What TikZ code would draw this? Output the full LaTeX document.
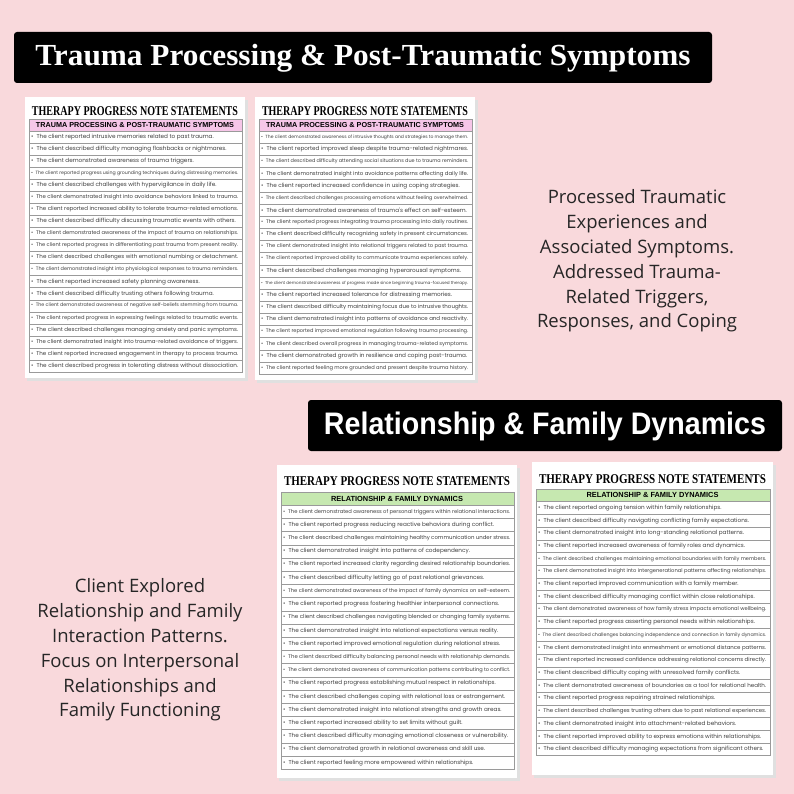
\documentclass[tikz,border=0pt]{standalone}
\usepackage{fontspec}
\usepackage{adjustbox}
\setmainfont{Liberation Serif}
\newfontfamily\rowfont{Poppins}
\newfontfamily\sidefont{Open Sans}
\newfontfamily\bansans{Liberation Sans}
\definecolor{bg}{HTML}{F9D9DC}
\definecolor{pinkbar}{HTML}{F6C6E8}
\definecolor{greenbar}{HTML}{C6E8B0}
\definecolor{rowline}{HTML}{9A9A9A}
\newcommand\tinyrow{}
\tikzset{
 banner/.style={fill=black,rounded corners=3pt,draw=none},
 sheet/.style={fill=white,draw=none},
 shadow/.style={fill=black!12,draw=none},
 rowtxt/.style={anchor=west,inner sep=0pt,font=\rowfont\fontsize{5.7pt}{6.5pt}\selectfont,text=black!75},
 bartxt/.style={inner sep=0pt,font=\bansans\bfseries\fontsize{7.4pt}{8pt}\selectfont},
 side/.style={align=center,font=\sidefont\fontsize{18.5pt}{24.8pt}\selectfont,text=black!85}
}
% #1 name, #2 left, #3 top, #4 right, #5 bottom, #6 heading y, #7 bar top, #8 row height, #9 colour
\newcommand\mysheet[9]{%
 \pgfmathsetlengthmacro\hw{(#4-#2-14)*1pt}%
 \pgfmathsetlengthmacro\rw{(#4-#2-13)*1pt}%
 \pgfmathsetlengthmacro\bw{(#4-#2-22)*1pt}%
 \fill[shadow] (#2+2,#3+3) rectangle (#4+3,#5+3);
 \fill[sheet] (#2,#3) rectangle (#4,#5);
 \node[inner sep=0pt,font=\bfseries] (#1h) at ({(#2+#4)/2},#6) {\resizebox*{\hw}{9pt}{THERAPY PROGRESS NOTE STATEMENTS}};
 \draw[rowline,line width=0.5pt,fill=#9] (#2+4,#7) rectangle (#4-3,#7+#8);
 \node[bartxt] (#1b) at ({(#2+#4)/2},#7+#8/2) {\adjustbox{max width=\bw}{\bartext}};
 \foreach \t [count=\i] in \rows {
   \draw[rowline,line width=0.5pt] (#2+4,#7+\i*#8) rectangle (#4-3,#7+\i*#8+#8);
   \node[rowtxt] (#1r\i) at (#2+6,#7+\i*#8+#8/2) {\adjustbox{max width=\rw}{\textbullet\ \ \t}};
 }
}
\begin{document}
\begin{tikzpicture}[x=1pt,y=-1pt]
\fill[bg] (0,0) rectangle (794,794);
\useasboundingbox (0,0) rectangle (794,794);
% banners
\fill[banner] (14,32) rectangle (712,83);
\node[text=white,inner sep=0pt] (t1) at (363,58) {\resizebox*{655pt}{28pt}{\bfseries Trauma Processing \& Post-Traumatic Symptoms}};
\fill[banner] (308,400) rectangle (782,451);
\node[text=white,inner sep=0pt] (t2) at (545,426) {\resizebox*{442pt}{29pt}{\bansans\bfseries Relationship \& Family Dynamics}};
% sheets
\def\bartext{TRAUMA PROCESSING \& POST-TRAUMATIC SYMPTOMS}
\def\rows{{The client reported intrusive memories related to past trauma.},{The client described difficulty managing flashbacks or nightmares.},{The client demonstrated awareness of trauma triggers.},{The client reported progress using grounding techniques during distressing memories.},{The client described challenges with hypervigilance in daily life.},{The client demonstrated insight into avoidance behaviors linked to trauma.},{The client reported increased ability to tolerate trauma-related emotions.},{The client described difficulty discussing traumatic events with others.},{The client demonstrated awareness of the impact of trauma on relationships.},{The client reported progress in differentiating past trauma from present reality.},{The client described challenges with emotional numbing or detachment.},{The client demonstrated insight into physiological responses to trauma reminders.},{The client reported increased safety planning awareness.},{The client described difficulty trusting others following trauma.},{The client demonstrated awareness of negative self-beliefs stemming from trauma.},{The client reported progress in expressing feelings related to traumatic events.},{The client described challenges managing anxiety and panic symptoms.},{The client demonstrated insight into trauma-related avoidance of triggers.},{The client reported increased engagement in therapy to process trauma.},{The client described progress in tolerating distress without dissociation.}}
\mysheet{a}{25}{97}{245}{378}{111}{119}{12.05}{pinkbar}
\def\rows{{The client demonstrated awareness of intrusive thoughts and strategies to manage them.},{The client reported improved sleep despite trauma-related nightmares.},{The client described difficulty attending social situations due to trauma reminders.},{The client demonstrated insight into avoidance patterns affecting daily life.},{The client reported increased confidence in using coping strategies.},{The client described challenges processing emotions without feeling overwhelmed.},{The client demonstrated awareness of trauma's effect on self-esteem.},{The client reported progress integrating trauma processing into daily routines.},{The client described difficulty recognizing safety in present circumstances.},{The client demonstrated insight into relational triggers related to past trauma.},{The client reported improved ability to communicate trauma experiences safely.},{The client described challenges managing hyperarousal symptoms.},{\tinyrow The client demonstrated awareness of progress made since beginning trauma-focused therapy.},{The client reported increased tolerance for distressing memories.},{The client described difficulty maintaining focus due to intrusive thoughts.},{The client demonstrated insight into patterns of avoidance and reactivity.},{The client reported improved emotional regulation following trauma processing.},{The client described overall progress in managing trauma-related symptoms.},{The client demonstrated growth in resilience and coping post-trauma.},{The client reported feeling more grounded and present despite trauma history.}}
\mysheet{b}{255}{97}{475}{380}{111}{119}{12.15}{pinkbar}
\def\bartext{RELATIONSHIP \& FAMILY DYNAMICS}
\def\rows{{The client demonstrated awareness of personal triggers within relational interactions.},{The client reported progress reducing reactive behaviors during conflict.},{The client described challenges maintaining healthy communication under stress.},{The client demonstrated insight into patterns of codependency.},{The client reported increased clarity regarding desired relationship boundaries.},{The client described difficulty letting go of past relational grievances.},{The client demonstrated awareness of the impact of family dynamics on self-esteem.},{The client reported progress fostering healthier interpersonal connections.},{The client described challenges navigating blended or changing family systems.},{The client demonstrated insight into relational expectations versus reality.},{The client reported improved emotional regulation during relational stress.},{The client described difficulty balancing personal needs with relationship demands.},{The client demonstrated awareness of communication patterns contributing to conflict.},{The client reported progress establishing mutual respect in relationships.},{The client described challenges coping with relational loss or estrangement.},{The client demonstrated insight into relational strengths and growth areas.},{The client reported increased ability to set limits without guilt.},{The client described difficulty managing emotional closeness or vulnerability.},{The client demonstrated growth in relational awareness and skill use.},{The client reported feeling more empowered within relationships.}}
\mysheet{c}{277}{465}{517}{778}{481}{492}{13.2}{greenbar}
\def\rows{{The client reported ongoing tension within family relationships.},{The client described difficulty navigating conflicting family expectations.},{The client demonstrated insight into long-standing relational patterns.},{The client reported increased awareness of family roles and dynamics.},{The client described challenges maintaining emotional boundaries with family members.},{The client demonstrated insight into intergenerational patterns affecting relationships.},{The client reported improved communication with a family member.},{The client described difficulty managing conflict within close relationships.},{The client demonstrated awareness of how family stress impacts emotional wellbeing.},{The client reported progress asserting personal needs within relationships.},{\tinyrow The client described challenges balancing independence and connection in family dynamics.},{The client demonstrated insight into enmeshment or emotional distance patterns.},{The client reported increased confidence addressing relational concerns directly.},{The client described difficulty coping with unresolved family conflicts.},{The client demonstrated awareness of boundaries as a tool for relational health.},{The client reported progress repairing strained relationships.},{The client described challenges trusting others due to past relational experiences.},{The client demonstrated insight into attachment-related behaviors.},{The client reported improved ability to express emotions within relationships.},{The client described difficulty managing expectations from significant others.}}
\mysheet{d}{532}{462}{773}{775}{479}{489}{12.7}{greenbar}
% side texts
\node[side] (s1) at (637,261) {Processed Traumatic\\Experiences and\\Associated Symptoms.\\Addressed Trauma-\\Related Triggers,\\Responses, and Coping};
\node[side] (s2) at (140,650) {Client Explored\\Relationship and Family\\Interaction Patterns.\\Focus on Interpersonal\\Relationships and\\Family Functioning};
\end{tikzpicture}
\end{document}
